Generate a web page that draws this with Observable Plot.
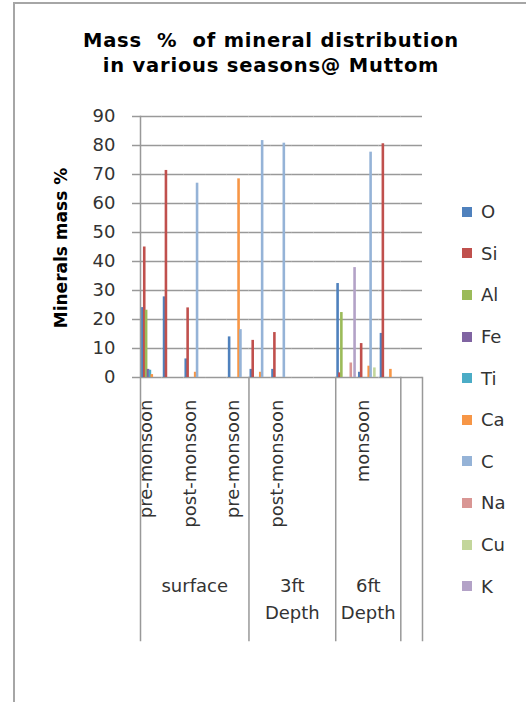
<!DOCTYPE html>
<html><head><meta charset="utf-8">
<script src="https://cdn.jsdelivr.net/npm/d3@7"></script>
<script src="https://cdn.jsdelivr.net/npm/@observablehq/plot@0.6"></script>
<style>
html,body{margin:0;padding:0;background:#fff;}
#wrap{position:relative;width:526px;height:702px;overflow:hidden;font-family:"DejaVu Sans",sans-serif;background:#fff;}
#border{position:absolute;left:13px;top:2px;width:600px;height:800px;border-left:2px solid #a6a6a6;border-top:2px solid #a6a6a6;}
#title{position:absolute;left:0;width:542px;top:28px;text-align:center;font-weight:bold;font-size:19.5px;letter-spacing:0.8px;line-height:25px;color:#000;white-space:pre;}
#plot{position:absolute;left:0;top:0;}
#ytitle{position:absolute;left:60.5px;top:247.5px;transform:translate(-50%,-50%) rotate(-90deg);white-space:nowrap;font-weight:bold;font-size:17px;color:#000;}
#legend{position:absolute;left:462px;top:191px;}
.item{display:flex;align-items:center;height:41.6px;font-size:18px;color:#333;}
.sw{width:10px;height:10px;margin-right:9px;}
</style></head>
<body>
<div id="wrap">
  <div id="border"></div>
  <div id="title">Mass  %  of mineral distribution
in various seasons@ Muttom</div>
  <div id="plot"></div>
  <div id="ytitle">Minerals mass %</div>
  <div id="legend"></div>
</div>
<script>
// ---- data ----
const series = ["O", "Si", "Al", "Fe", "Ti", "Ca", "C", "Na", "Cu", "K"];
const seriesColors = ["#4F81BD", "#C0504D", "#9BBB59", "#8064A2", "#4BACC6", "#F79646", "#95B3D7", "#D99694", "#C3D69B", "#B3A2C7"];
const rows = ["r1", "r2", "r3", "r4", "r5", "r6", "r7", "r8", "r9", "r10", "r11", "r12", "r13"];
const rowLabels = ["pre-monsoon", "", "post-monsoon", "", "pre-monsoon", "", "post-monsoon", "", "", "", "monsoon", "", ""];
const groupNames = ["surface", "3ft\nDepth", "6ft\nDepth", ""];
const groupSizes = [5, 4, 3, 1];
const yTicks = [0, 10, 20, 30, 40, 50, 60, 70, 80, 90];

const O  = [24.1, 27.8, 6.4, 0, 14.0, 2.8, 2.8, 0, 0, 32.4, 1.8, 15.2, 0];
const Si = [45.0, 71.4, 24.0, 0, 0, 12.8, 15.5, 0, 0, 1.6, 11.7, 80.6, 0];
const Al = [23.2, 0, 0, 0, 0, 0, 0, 0, 0, 22.4, 0, 0, 0];
const Fe = [2.8, 0, 0, 0, 0, 0, 0, 0, 0, 0, 0, 0, 0];
const Ti = [2.5, 0, 0, 0, 0, 0, 0, 0, 0, 0, 0, 0, 0];
const Ca = [1.0, 0, 1.8, 0, 68.5, 1.8, 0, 0, 0, 0, 3.9, 2.8, 0];
const C  = [0, 0, 67.0, 0, 16.5, 81.7, 80.8, 0, 0, 0, 77.7, 0, 0];
const Na = [0, 0, 0, 0, 0, 0, 0, 0, 0, 5.0, 0, 0, 0];
const Cu = [0, 0, 0, 0, 0, 0, 0, 0, 0, 0, 3.3, 0, 0];
const K  = [0, 0, 0, 0, 0, 0, 0, 0, 0, 37.9, 0, 0, 0];
const valuesBySeries = [O, Si, Al, Fe, Ti, Ca, C, Na, Cu, K];

// ---- tables built from the arrays ----
const table = [];
series.forEach((s, si) => rows.forEach((r, ri) => table.push({row: r, series: s, value: valuesBySeries[si][ri]})));
const labelTable = rows.map((r, i) => ({row: r, label: rowLabels[i]})).filter(d => d.label);
const starts = groupSizes.map((_, i) => d3.sum(groupSizes.slice(0, i)));
const groups = groupNames.map((name, i) => {
  const c = starts[i] + groupSizes[i] / 2;
  return Number.isInteger(c) ? {name, row: rows[c], edge: true} : {name, row: rows[Math.floor(c)], edge: false};
}).filter(d => d.name);

const gray = "#999";
const textColor = "#333";
const font = "'DejaVu Sans', sans-serif";

const sepMarks = [];
sepMarks.push(Plot.frame({anchor: "left", fx: rows[0], stroke: gray, strokeWidth: 1.5, insetBottom: -263}));
starts.slice(1).forEach(st => sepMarks.push(Plot.frame({anchor: "left", fx: rows[st], stroke: gray, strokeWidth: 1.5, insetTop: 261, insetBottom: -263})));
sepMarks.push(Plot.frame({anchor: "right", fx: rows[rows.length - 1], stroke: gray, strokeWidth: 1.5, insetTop: 261, insetBottom: -263}));

const chart = Plot.plot({
  width: 526,
  height: 645,
  marginLeft: 140,
  marginRight: 104,
  marginTop: 116,
  marginBottom: 268,
  style: {fontFamily: font, background: "transparent", overflow: "visible"},
  fx: {domain: rows, padding: 0, axis: null, round: false},
  x: {domain: series, paddingInner: 0, paddingOuter: 0.75, axis: null, round: false},
  y: {domain: [0, 90], axis: null},
  color: {domain: series, range: seriesColors},
  marks: [
    Plot.gridY(yTicks, {stroke: gray, strokeOpacity: 1, strokeWidth: 1.5}),
    Plot.axisY(yTicks, {tickSize: 8, tickPadding: 17, fontSize: 18, stroke: gray, strokeWidth: 1.5, fill: textColor, label: null}),
    Plot.barY(table, {fx: "row", x: "series", y: "value", fill: "series", insetLeft: -0.35, insetRight: -0.35}),
    ...sepMarks,
    Plot.text(labelTable, {fx: "row", text: "label", frameAnchor: "bottom", rotate: -90, textAnchor: "end", dy: 22, dx: 1, fontSize: 18, fill: textColor}),
    Plot.text(groups.filter(d => !d.edge), {fx: "row", text: "name", frameAnchor: "bottom", lineAnchor: "top", lineHeight: 1.5, dy: 195, fontSize: 18, fill: textColor}),
    Plot.text(groups.filter(d => d.edge), {fx: "row", text: "name", frameAnchor: "bottom-left", textAnchor: "middle", lineAnchor: "top", lineHeight: 1.5, dy: 195, fontSize: 18, fill: textColor})
  ]
});
document.getElementById("plot").appendChild(chart);

const legend = document.getElementById("legend");
series.forEach((s, i) => {
  const item = document.createElement("div");
  item.className = "item";
  const sw = document.createElement("span");
  sw.className = "sw";
  sw.style.background = seriesColors[i];
  const t = document.createElement("span");
  t.textContent = s;
  item.appendChild(sw); item.appendChild(t);
  legend.appendChild(item);
});
</script>
</body></html>
